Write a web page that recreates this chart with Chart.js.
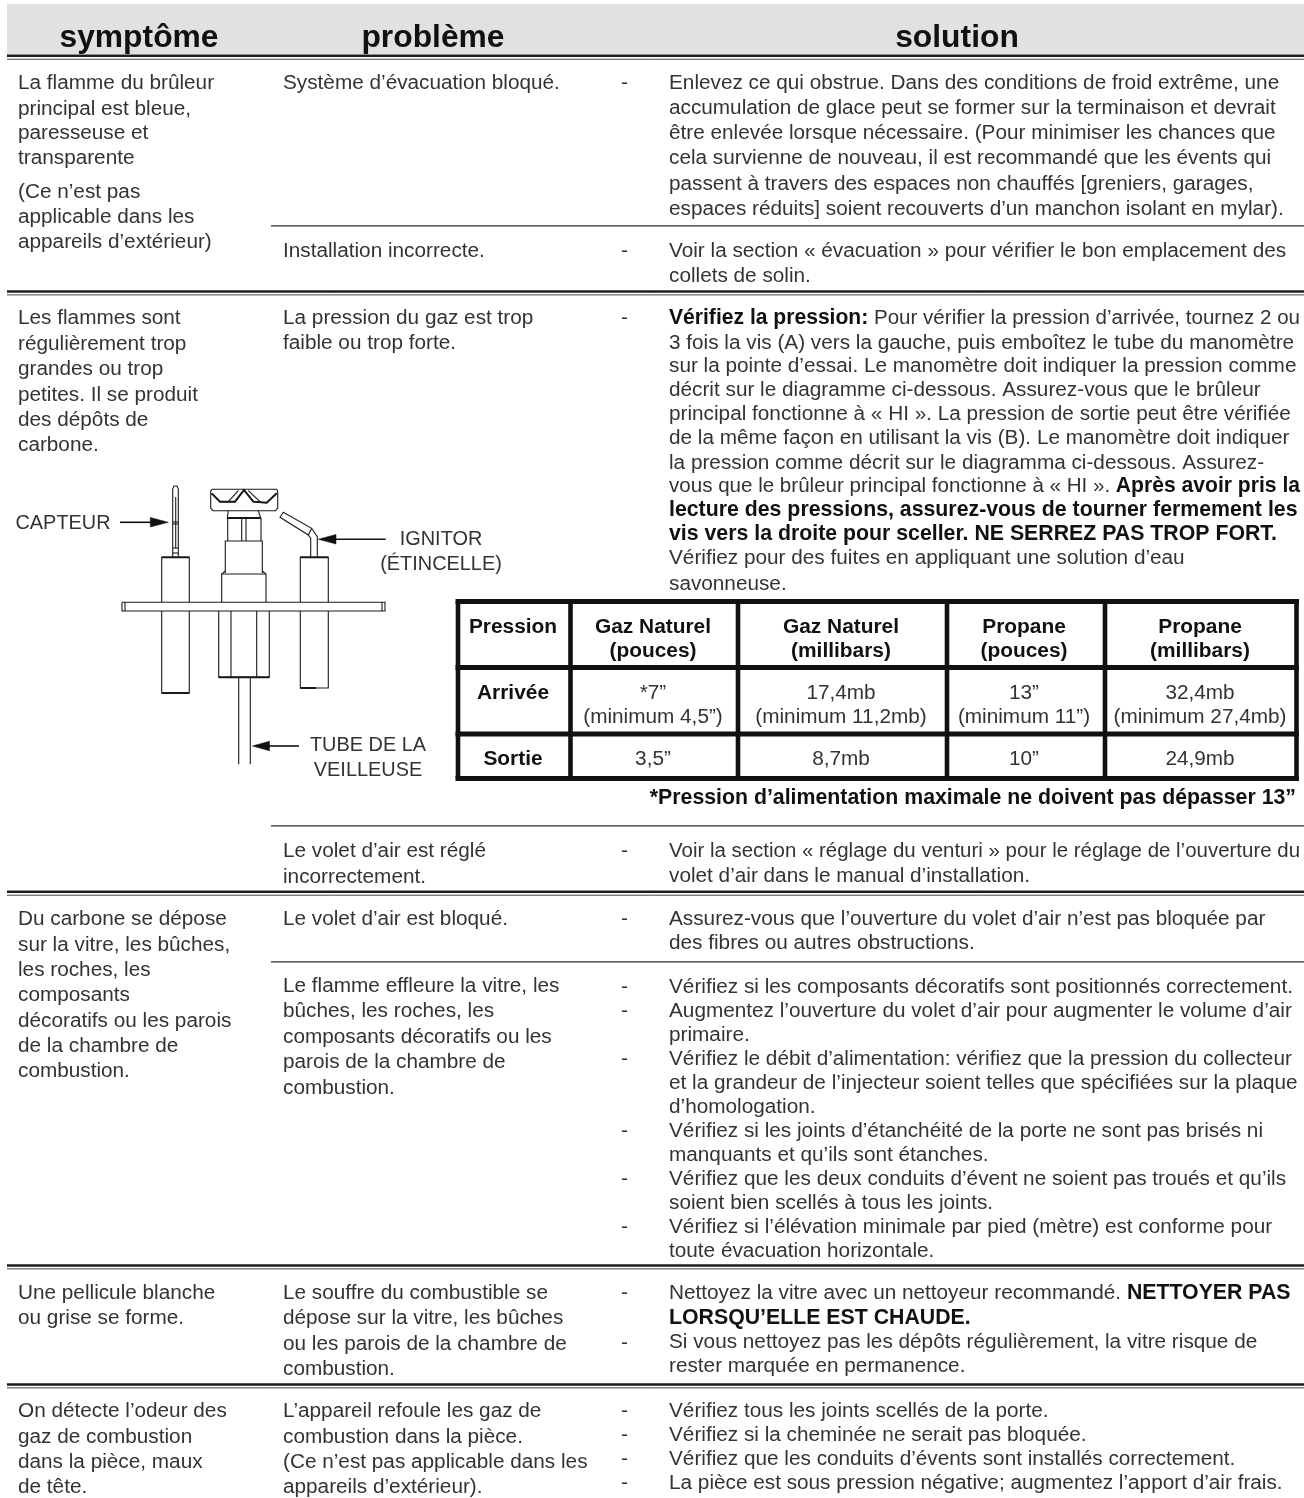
<!DOCTYPE html>
<html lang="fr">
<head>
<meta charset="utf-8">
<title>symptôme problème solution</title>
<style>
  html, body { margin: 0; padding: 0; background: #fff; }
  canvas { display: block; }
</style>
</head>
<body>
<canvas id="chart" width="1304" height="1498"></canvas>
<script src="https://cdn.jsdelivr.net/npm/chart.js@4"></script>
<script>
// Textes du tableau (§ = bascule gras)
const headers = ['symptôme', 'problème', 'solution'];
const headerX = [139, 433, 957];

const symptomLines = [
  'La flamme du brûleur', 'principal est bleue,', 'paresseuse et', 'transparente',
  '(Ce n’est pas', 'applicable dans les', 'appareils d’extérieur)',
  'Les flammes sont', 'régulièrement trop', 'grandes ou trop', 'petites. Il se produit', 'des dépôts de', 'carbone.',
  'Du carbone se dépose', 'sur la vitre, les bûches,', 'les roches, les', 'composants', 'décoratifs ou les parois', 'de la chambre de', 'combustion.',
  'Une pellicule blanche', 'ou grise se forme.',
  'On détecte l’odeur des', 'gaz de combustion', 'dans la pièce, maux', 'de tête.'
];
const symptomY = [82, 108, 132, 157, 191, 216, 241, 317, 343, 368, 394, 419, 444, 918, 944, 969, 994, 1020, 1045, 1070, 1292, 1317, 1410, 1436, 1461, 1486];

const problemLines = [
  'Système d’évacuation bloqué.', 'Installation incorrecte.',
  'La pression du gaz est trop', 'faible ou trop forte.',
  'Le volet d’air est réglé', 'incorrectement.',
  'Le volet d’air est bloqué.',
  'Le flamme effleure la vitre, les', 'bûches, les roches, les', 'composants décoratifs ou les', 'parois de la chambre de', 'combustion.',
  'Le souffre du combustible se', 'dépose sur la vitre, les bûches', 'ou les parois de la chambre de', 'combustion.',
  'L’appareil refoule les gaz de', 'combustion dans la pièce.', '(Ce n’est pas applicable dans les', 'appareils d’extérieur).'
];
const problemY = [82, 250, 317, 342, 850, 876, 918, 985, 1010, 1036, 1061, 1087, 1292, 1317, 1343, 1368, 1410, 1436, 1461, 1486];

const solutionLines = [
  'Enlevez ce qui obstrue. Dans des conditions de froid extrême, une',
  'accumulation de glace peut se former sur la terminaison et devrait',
  'être enlevée lorsque nécessaire. (Pour minimiser les chances que',
  'cela survienne de nouveau, il est recommandé que les évents qui',
  'passent à travers des espaces non chauffés [greniers, garages,',
  'espaces réduits] soient recouverts d’un manchon isolant en mylar).',
  'Voir la section « évacuation » pour vérifier le bon emplacement des',
  'collets de solin.',
  '§Vérifiez la pression:§ Pour vérifier la pression d’arrivée, tournez 2 ou',
  '3 fois la vis (A) vers la gauche, puis emboîtez le tube du manomètre',
  'sur la pointe d’essai. Le manomètre doit indiquer la pression comme',
  'décrit sur le diagramme ci-dessous. Assurez-vous que le brûleur',
  'principal fonctionne à « HI ». La pression de sortie peut être vérifiée',
  'de la même façon en utilisant la vis (B). Le manomètre doit indiquer',
  'la pression comme décrit sur le diagramma ci-dessous. Assurez-',
  'vous que le brûleur principal fonctionne à « HI ». §Après avoir pris la§',
  '§lecture des pressions, assurez-vous de tourner fermement les§',
  '§vis vers la droite pour sceller. NE SERREZ PAS TROP FORT.§',
  'Vérifiez pour des fuites en appliquant une solution d’eau',
  'savonneuse.',
  'Voir la section « réglage du venturi » pour le réglage de l’ouverture du',
  'volet d’air dans le manual d’installation.',
  'Assurez-vous que l’ouverture du volet d’air n’est pas bloquée par',
  'des fibres ou autres obstructions.',
  'Vérifiez si les composants décoratifs sont positionnés correctement.',
  'Augmentez l’ouverture du volet d’air pour augmenter le volume d’air',
  'primaire.',
  'Vérifiez le débit d’alimentation: vérifiez que la pression du collecteur',
  'et la grandeur de l’injecteur soient telles que spécifiées sur la plaque',
  'd’homologation.',
  'Vérifiez si les joints d’étanchéité de la porte ne sont pas brisés ni',
  'manquants et qu’ils sont étanches.',
  'Vérifiez que les deux conduits d’évent ne soient pas troués et qu’ils',
  'soient bien scellés à tous les joints.',
  'Vérifiez si l’élévation minimale par pied (mètre) est conforme pour',
  'toute évacuation horizontale.',
  'Nettoyez la vitre avec un nettoyeur recommandé. §NETTOYER PAS§',
  '§LORSQU’ELLE EST CHAUDE.§',
  'Si vous nettoyez pas les dépôts régulièrement, la vitre risque de',
  'rester marquée en permanence.',
  'Vérifiez tous les joints scellés de la porte.',
  'Vérifiez si la cheminée ne serait pas bloquée.',
  'Vérifiez que les conduits d’évents sont installés correctement.',
  'La pièce est sous pression négative; augmentez l’apport d’air frais.'
];
const solutionY = [82, 107, 132, 157, 183, 208, 250, 275, 317, 342, 365, 389, 413, 437, 462, 485, 509, 533, 557, 583, 850, 875, 918, 942,
  986, 1010, 1034, 1058, 1082, 1106, 1130, 1154, 1178, 1202, 1226, 1250, 1292, 1317, 1341, 1365, 1410, 1434, 1458, 1482];

const dashY = [82, 250, 317, 850, 918, 986, 1010, 1058, 1130, 1178, 1226, 1292, 1342, 1410, 1434, 1458, 1482];

// Tableau des pressions
const pressureX = [513, 653, 841, 1024, 1200];
const pressureHead1 = ['Pression', 'Gaz Naturel', 'Gaz Naturel', 'Propane', 'Propane'];
const pressureHead2 = ['', '(pouces)', '(millibars)', '(pouces)', '(millibars)'];
const arrivee1 = ['Arrivée', '*7”', '17,4mb', '13”', '32,4mb'];
const arrivee2 = ['', '(minimum 4,5”)', '(minimum 11,2mb)', '(minimum 11”)', '(minimum 27,4mb)'];
const sortie = ['Sortie', '3,5”', '8,7mb', '10”', '24,9mb'];
const footnote = '*Pression d’alimentation maximale ne doivent pas dépasser 13”';

// Légendes du schéma
const diagramLabels = ['CAPTEUR', 'IGNITOR', '(ÉTINCELLE)', 'TUBE DE LA', 'VEILLEUSE'];
const diagramLabelX = [63, 441, 441, 368, 368];
const diagramLabelY = [522, 538, 563, 744, 769];

// Filets
const doubleRuleY = [55.8, 291.5, 891.8, 1265.5, 1384.5];
const singleRuleY = [225.8, 825.8, 961.8];
const tableRowY = [601.5, 667.5, 734, 778.5];
const tableColX = [458, 570.5, 738, 947, 1105, 1296.5];

// Schéma du brûleur pilote
const burnerParts = [
  [[172.7, 557], [172.7, 489], [174, 486], [177, 486], [178.3, 489], [178.3, 557]],
  [[161.7, 602], [161.7, 557.3], [189.3, 557.3], [189.3, 602]],
  [[122, 602.3], [385, 602.3], [385, 611], [122, 611], [122, 602.3]],
  [[125, 602.3], [125, 611]],
  [[382, 602.3], [382, 611]],
  [[161.7, 611], [161.7, 693], [189.3, 693], [189.3, 611]],
  [[300.3, 602], [300.3, 557.3], [328.3, 557.3], [328.3, 602]],
  [[300.3, 611], [300.3, 688], [328.3, 688], [328.3, 611]],
  [[212, 489.3], [276.5, 489.3], [277.7, 491], [277.7, 508], [275.5, 510.7], [213, 510.7], [210.7, 508], [210.7, 491], [212, 489.3]],
  [[211.7, 493.3], [220, 501.7], [235, 501.7], [244, 490], [253.3, 501.7], [266.7, 502.7], [276.7, 493.3]],
  [[228.3, 501.7], [238.3, 490.7]],
  [[248.3, 490.7], [260, 501.7]],
  [[228.3, 510.7], [227.3, 518], [260.7, 518], [258.3, 510.7]],
  [[227.7, 518], [227.7, 541]],
  [[261, 518], [261, 541]],
  [[241.7, 518], [241.7, 541]],
  [[246, 518], [246, 541]],
  [[225.3, 573], [225.3, 541], [262.3, 541], [262.3, 573]],
  [[225.3, 571], [221.7, 574], [221.7, 602]],
  [[262.3, 571], [266, 574], [266, 602]],
  [[221.7, 574], [266, 574]],
  [[218.7, 611], [218.7, 677.3], [269.3, 677.3], [269.3, 611]],
  [[231, 611], [231, 677.3]],
  [[256.7, 611], [256.7, 677.3]],
  [[238.7, 677.3], [238.7, 764.3]],
  [[250.3, 677.3], [250.3, 764.3]],
  [[310.7, 557.3], [310.7, 538.3], [308.3, 535], [280, 517.3], [283.3, 512.3], [311.7, 528.3], [317.3, 536.7], [317.3, 557.3]],
  [[308.3, 535], [311.7, 528.3]],
  [[172.7, 522], [178.3, 522]],
  [[172.7, 524], [178.3, 524]],
  [[172.7, 548], [178.3, 548]],
  [[172.7, 553], [178.3, 553]],
  [[175.7, 497], [175.7, 548]]
];
// traits plus gras du schéma
const burnerHeavy = [
  [[161.7, 557.3], [189.3, 557.3]],
  [[300.3, 557.3], [328.3, 557.3]],
  [[161.7, 693], [189.3, 693]],
  [[300.3, 688], [316, 688]],
  [[218.7, 677.3], [269.3, 677.3]],
  [[227.3, 518], [260.7, 518]],
  [[211.7, 493.3], [220, 501.7], [235, 501.7], [244, 490], [253.3, 501.7], [266.7, 502.7], [276.7, 493.3]]
];
const arrowShafts = [
  [[120, 522.3], [152, 522.3]],
  [[385.7, 539.3], [335, 539.3]],
  [[299, 746], [268, 746]]
];
const arrowHeads = [
  [[150.3, 517.5], [168.3, 522.3], [150.3, 527], [150.3, 517.5]],
  [[336, 534.5], [318.3, 539.3], [336, 544], [336, 534.5]],
  [[269.5, 741.2], [252.3, 746], [269.5, 750.8], [269.5, 741.2]]
];

const bodyFont = '20.75px "Liberation Sans"';
const bodyBold = 'bold 21.3px "Liberation Sans"';
const inkColor = '#333';
const rightLimit = 1300;

function asPoints(pairs) {
  return pairs.map(p => ({ x: p[0], y: p[1] }));
}

function stroke(pairs, width, color) {
  return {
    data: asPoints(pairs),
    showLine: true,
    borderColor: color,
    borderWidth: width,
    borderCapStyle: 'butt',
    borderJoinStyle: 'miter',
    pointRadius: 0,
    fill: false,
    tension: 0
  };
}

const datasets = [];
// bandeau gris d'en-tête
datasets.push(stroke([[7, 29], [1304, 29]], 50, '#e1e1e1'));
datasets.push(stroke([[271.5, 4], [271.5, 54]], 1.5, '#d2d2d2'));
datasets.push(stroke([[596, 4], [596, 54]], 1.5, '#d2d2d2'));

doubleRuleY.forEach(y => {
  datasets.push(stroke([[7, y], [1304, y]], 2.6, '#1c1c1c'));
  datasets.push(stroke([[7, y + 3.4], [1304, y + 3.4]], 1, '#444'));
});
singleRuleY.forEach(y => {
  datasets.push(stroke([[271, y], [1304, y]], 1.2, '#333'));
});

// grille du tableau des pressions
tableRowY.forEach(y => {
  datasets.push(stroke([[tableColX[0] - 2.5, y], [tableColX[5] + 2.5, y]], 5, '#111'));
});
tableColX.forEach(x => {
  datasets.push(stroke([[x, tableRowY[0]], [x, tableRowY[3]]], 4.6, '#111'));
});

burnerParts.forEach(part => datasets.push(stroke(part, 1.1, '#1a1a1a')));
burnerHeavy.forEach(part => datasets.push(stroke(part, 1.9, '#111')));
arrowShafts.forEach(part => datasets.push(stroke(part, 1.6, '#111')));
arrowHeads.forEach(part => {
  const d = stroke(part, 0.5, '#111');
  d.fill = 'shape';
  d.backgroundColor = '#111';
  datasets.push(d);
});

// Écrit une ligne avec ses passages en gras, resserrée si elle dépasse la marge
function drawRuns(ctx, text, x, y) {
  const runs = text.split('§');
  let total = 0;
  runs.forEach((run, i) => {
    ctx.font = i % 2 ? bodyBold : bodyFont;
    total += ctx.measureText(run).width;
  });
  const squeeze = Math.min(1, (rightLimit - x) / total);
  let cx = x;
  runs.forEach((run, i) => {
    if (!run) return;
    ctx.font = i % 2 ? bodyBold : bodyFont;
    ctx.fillStyle = i % 2 ? '#111' : inkColor;
    const w = ctx.measureText(run).width * squeeze;
    ctx.fillText(run, cx, y, w);
    cx += w;
  });
}

const tableText = {
  id: 'tableText',
  afterDatasetsDraw(chart) {
    const { ctx, scales } = chart;
    const px = v => scales.x.getPixelForValue(v);
    const py = v => scales.y.getPixelForValue(v);
    const base = 7; // du centre des minuscules à la ligne de base

    ctx.save();
    ctx.textBaseline = 'alphabetic';

    ctx.textAlign = 'center';
    ctx.fillStyle = '#111';
    ctx.font = 'bold 31.8px "Liberation Sans"';
    headers.forEach((h, i) => ctx.fillText(h, px(headerX[i]), py(47)));

    ctx.textAlign = 'left';
    symptomLines.forEach((t, i) => drawRuns(ctx, t, px(18), py(symptomY[i] + base)));
    problemLines.forEach((t, i) => drawRuns(ctx, t, px(283), py(problemY[i] + base)));
    solutionLines.forEach((t, i) => drawRuns(ctx, t, px(669), py(solutionY[i] + base)));
    dashY.forEach(y => drawRuns(ctx, '-', px(621), py(y + base)));

    // tableau des pressions
    ctx.textAlign = 'center';
    ctx.fillStyle = '#111';
    ctx.font = 'bold 20.9px "Liberation Sans"';
    pressureX.forEach((x, i) => {
      ctx.fillText(pressureHead1[i], px(x), py(633));
      ctx.fillText(pressureHead2[i], px(x), py(657));
    });
    ctx.fillText(arrivee1[0], px(pressureX[0]), py(699));
    ctx.fillText(sortie[0], px(pressureX[0]), py(765));
    ctx.textAlign = 'right';
    ctx.font = bodyBold;
    ctx.fillText(footnote, px(1296), py(804));

    ctx.textAlign = 'center';
    ctx.font = bodyFont;
    ctx.fillStyle = inkColor;
    pressureX.forEach((x, i) => {
      if (i === 0) return;
      ctx.fillText(arrivee1[i], px(x), py(699));
      ctx.fillText(arrivee2[i], px(x), py(723));
      ctx.fillText(sortie[i], px(x), py(765));
    });

    ctx.font = '19.9px "Liberation Sans"';
    diagramLabels.forEach((t, i) => {
      ctx.fillText(t, px(diagramLabelX[i]), py(diagramLabelY[i] + 7));
    });
    ctx.restore();
  }
};

new Chart(document.getElementById('chart'), {
  type: 'scatter',
  data: { datasets: datasets },
  plugins: [tableText],
  options: {
    responsive: false,
    animation: false,
    events: [],
    layout: { padding: 0 },
    plugins: {
      legend: { display: false },
      tooltip: { enabled: false },
      title: { display: false }
    },
    scales: {
      x: { type: 'linear', min: 0, max: 1304, display: false },
      y: { type: 'linear', min: 0, max: 1498, reverse: true, display: false }
    }
  }
});
</script>
</body>
</html>
